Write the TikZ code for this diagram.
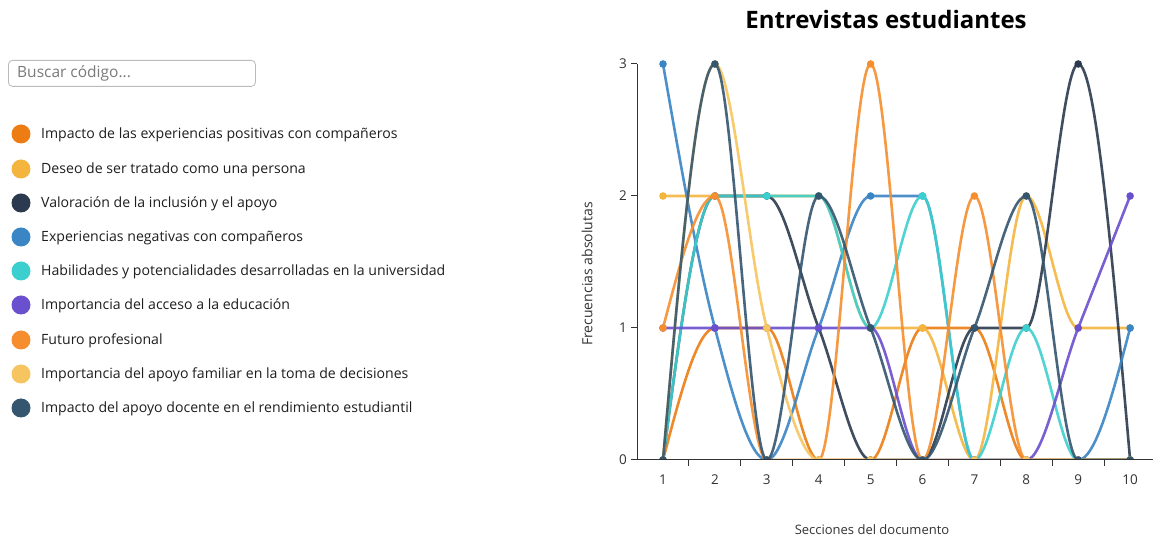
\documentclass[tikz,border=0pt]{standalone}
\usepackage{fontspec}
\setmainfont{Open Sans}
\definecolor{cA}{HTML}{ED7D12}
\definecolor{cB}{HTML}{F4B53F}
\definecolor{cC}{HTML}{2B3A4E}
\definecolor{cD}{HTML}{3A85C4}
\definecolor{cE}{HTML}{3CCFCF}
\definecolor{cF}{HTML}{6A4FCF}
\definecolor{cG}{HTML}{F68E2F}
\definecolor{cH}{HTML}{F7C55F}
\definecolor{cI}{HTML}{34566F}
\definecolor{axisgray}{HTML}{333333}
\definecolor{legink}{HTML}{1E1E1E}
\definecolor{boxgray}{HTML}{BBBBBB}
\definecolor{phgray}{HTML}{7A7A7A}
\newcommand\plotseries[3]{%
  \def\ys{#2}\def\ts{#3}%
  \begin{scope}
    \clip (0.5,0) rectangle (10.6,3.3);
    \draw[serie,#1] (1,{\ys[0]}) \foreach \i in {1,...,9} { .. controls ({\i+1/3},{\ys[\i-1]+\ts[\i-1]/3}) and ({\i+2/3},{\ys[\i]-\ts[\i]/3}) .. ({\i+1},{\ys[\i]}) };
    \foreach \i in {0,...,9} \fill[#1] ({\i+1},{\ys[\i]}) circle[radius=3.8pt];
  \end{scope}
}
\begin{document}
\begin{tikzpicture}[x=1pt,y=1pt,
  legtext/.style={anchor=west,inner sep=0pt,text=legink,font=\fontsize{14.1}{16}\selectfont},
  legdot/.style={circle,inner sep=0pt,minimum size=19pt},
  serie/.style={line width=2.6pt,opacity=0.9,line cap=round,line join=round},
  ticklab/.style={text=axisgray,font=\fontsize{13.5}{15}\selectfont,inner sep=0pt}]
\useasboundingbox (0,0) rectangle (1153,540);
\fill[white] (0,0) rectangle (1153,540);

% search box
\node[draw=boxgray,rounded corners=4pt,line width=0.8pt,minimum width=247pt,minimum height=26pt,anchor=north west,inner sep=0pt] (search) at (8,480) {};
\node[anchor=west,text=phgray,inner sep=0pt,font=\fontsize{15.5}{17}\selectfont] (searchtxt) at (17,467) {Buscar código...};

% legend
\node[legdot,fill=cA] (d1) at (21,406) {};
\node[legtext] (t1) at (41,405) {Impacto de las experiencias positivas con compañeros};
\node[legdot,fill=cB] (d2) at (21,371) {};
\node[legtext] (t2) at (41,370) {Deseo de ser tratado como una persona};
\node[legdot,fill=cC] (d3) at (21,337) {};
\node[legtext] (t3) at (41,336) {Valoración de la inclusión y el apoyo};
\node[legdot,fill=cD] (d4) at (21,303) {};
\node[legtext] (t4) at (41,302) {Experiencias negativas con compañeros};
\node[legdot,fill=cE] (d5) at (21,269) {};
\node[legtext] (t5) at (41,268) {Habilidades y potencialidades desarrolladas en la universidad};
\node[legdot,fill=cF] (d6) at (21,235) {};
\node[legtext] (t6) at (41,234) {Importancia del acceso a la educación};
\node[legdot,fill=cG] (d7) at (21,200) {};
\node[legtext] (t7) at (41,199) {Futuro profesional};
\node[legdot,fill=cH] (d8) at (21,166) {};
\node[legtext] (t8) at (41,165) {Importancia del apoyo familiar en la toma de decisiones};
\node[legdot,fill=cI] (d9) at (21,132) {};
\node[legtext] (t9) at (41,131) {Impacto del apoyo docente en el rendimiento estudiantil};

% titles
\node[font=\bfseries\fontsize{24}{28}\selectfont,inner sep=0pt] (title) at (886,520) {Entrevistas estudiantes};
\node[rotate=90,text=axisgray,font=\fontsize{14}{16}\selectfont,inner sep=0pt] (ylab) at (587,266) {Frecuencias absolutas};
\node[text=axisgray,font=\fontsize{13}{15}\selectfont,inner sep=0pt] (xlab) at (872,10) {Secciones del documento};

\begin{scope}[shift={(611.1pt,80pt)},x=51.9pt,y=132pt]
  % series
  \plotseries{cA}{{0,1,1,0,0,1,1,0,0,0}}{{1.5,0,0,0,0,0,0,0,0,0}}
  \plotseries{cB}{{2,2,2,2,1,1,0,2,1,1}}{{0,0,0,0,0,0,0,0,0,0}}
  \plotseries{cC}{{0,2,2,1,0,0,1,1,3,0}}{{3,0,0,-1,0,0,0,0,0,-4.5}}
  \plotseries{cD}{{3,1,0,1,2,2,0,0,0,1}}{{-2.25,-1.5,0,1,0,0,0,0,0,1.5}}
  \plotseries{cE}{{0,2,2,2,1,2,0,1,0,0}}{{3,0,0,0,0,0,0,0,0,0}}
  \plotseries{cF}{{1,1,1,1,1,0,0,0,1,2}}{{0,0,0,0,0,0,0,0,1,1}}
  \plotseries{cG}{{1,2,0,0,3,0,2,0,0,0}}{{1.5,0,0,0,0,0,0,0,0,0}}
  \plotseries{cH}{{0,3,1,0,0,0,0,0,0,0}}{{4.5,0,-1.5,0,0,0,0,0,0,0}}
  \plotseries{cI}{{0,3,0,2,1,0,1,2,0,0}}{{4.5,0,0,0,-1,0,1,0,0,0}}
  % axes
  \coordinate (o) at (0.5,0);
  \coordinate (ytop) at (0.5,3);
  \coordinate (xend) at (10.6,0);
  \draw[axisgray,line width=1pt] (ytop) -- (o) -- (xend);
  \foreach \v in {0,1,2,3} {
    \draw[axisgray,line width=1pt] (0.5,\v) -- ++(-6pt,0) coordinate (yt\v);
    \node[ticklab,anchor=east] (yl\v) at ([xshift=-4pt]yt\v) {\v};
  }
  \foreach \k in {1,...,9} \draw[axisgray,line width=1pt] (\k+0.5,0) -- ++(0,-6pt);
  \foreach \k in {1,...,10} {
    \coordinate (xt\k) at (\k,0);
    \node[ticklab,anchor=center] (xl\k) at ([yshift=-20pt]xt\k) {\k};
  }
\end{scope}
\end{tikzpicture}
\end{document}
